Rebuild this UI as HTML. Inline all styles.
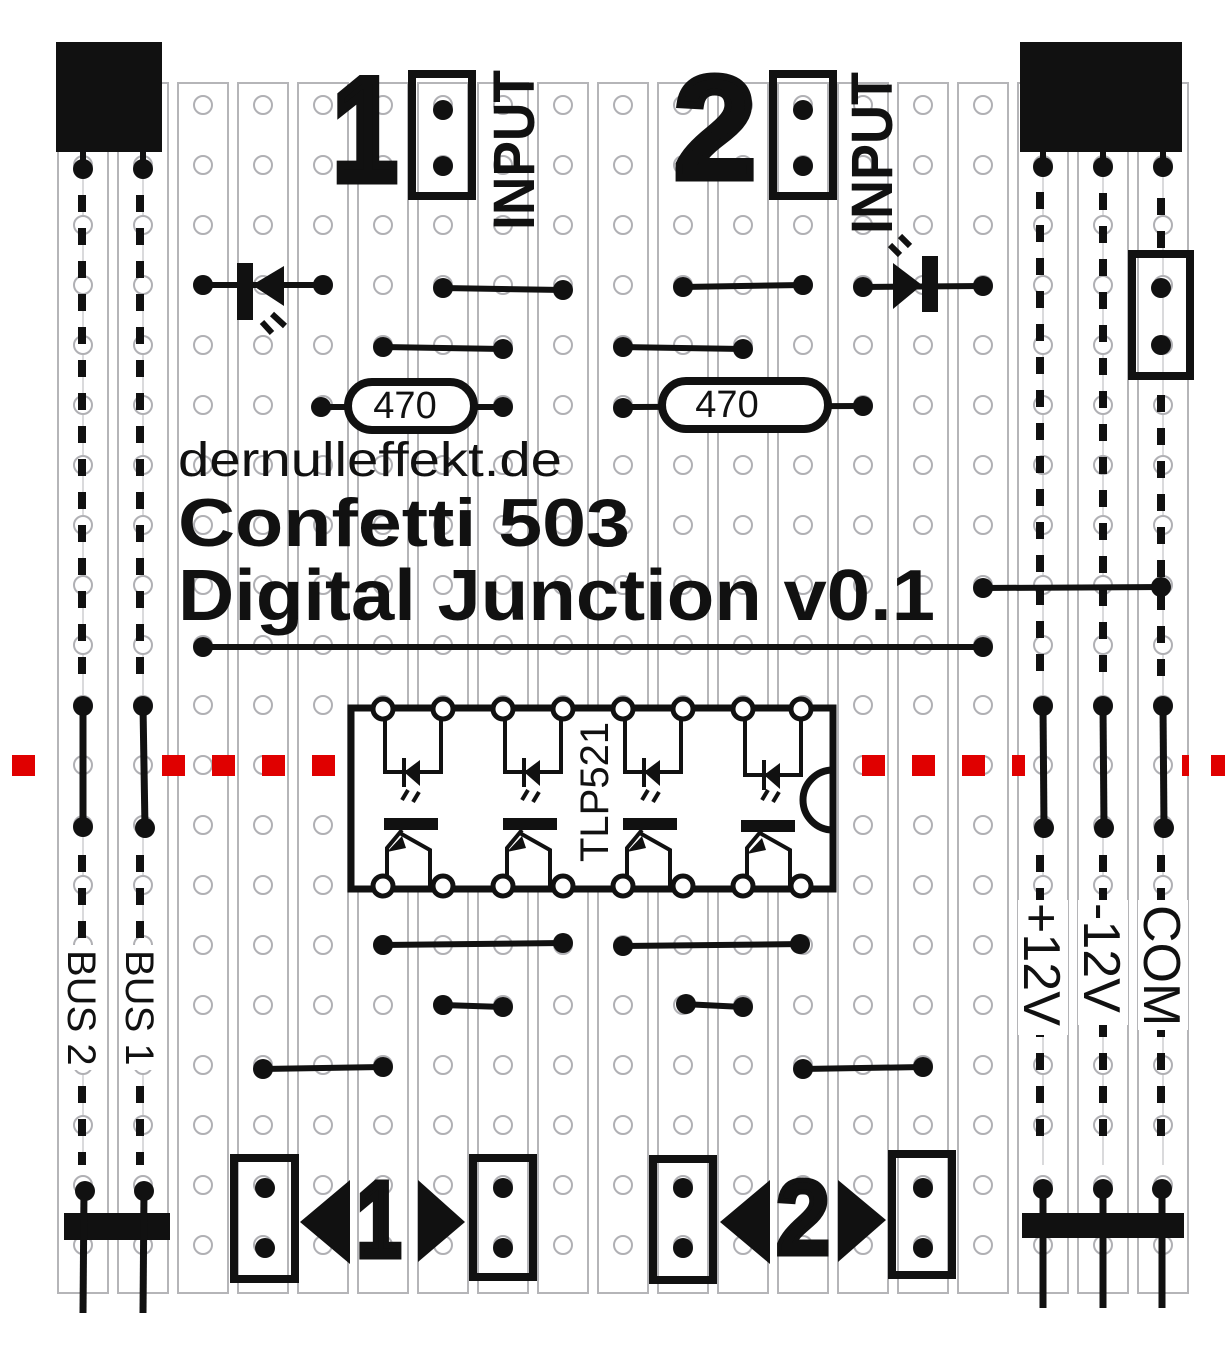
<!DOCTYPE html>
<html><head><meta charset="utf-8"><style>
html,body{margin:0;padding:0;background:#fff;}
svg{display:block;}
</style></head><body>
<svg width="1225" height="1360" viewBox="0 0 1225 1360" xmlns="http://www.w3.org/2000/svg" font-family="Liberation Sans, sans-serif">
<defs>
<pattern id="holes" x="53" y="75" width="60" height="60" patternUnits="userSpaceOnUse">
<circle cx="30" cy="30" r="9" fill="#fff" stroke="#b0b0b4" stroke-width="2"/>
</pattern>
</defs>
<rect width="1225" height="1360" fill="#fff"/>
<g fill="none" stroke="#b5b5b8" stroke-width="2">
<rect x="58" y="83" width="50" height="1210"/><rect x="118" y="83" width="50" height="1210"/>
<rect x="178" y="83" width="50" height="1210"/><rect x="238" y="83" width="50" height="1210"/>
<rect x="298" y="83" width="50" height="1210"/><rect x="358" y="83" width="50" height="1210"/>
<rect x="418" y="83" width="50" height="1210"/><rect x="478" y="83" width="50" height="1210"/>
<rect x="538" y="83" width="50" height="1210"/><rect x="598" y="83" width="50" height="1210"/>
<rect x="658" y="83" width="50" height="1210"/><rect x="718" y="83" width="50" height="1210"/>
<rect x="778" y="83" width="50" height="1210"/><rect x="838" y="83" width="50" height="1210"/>
<rect x="898" y="83" width="50" height="1210"/><rect x="958" y="83" width="50" height="1210"/>
<rect x="1018" y="83" width="50" height="1210"/><rect x="1078" y="83" width="50" height="1210"/>
<rect x="1138" y="83" width="50" height="1210"/>
</g>
<g stroke="#b5b5b8" stroke-width="1">
<line x1="83" y1="170" x2="83" y2="1165"/><line x1="143" y1="170" x2="143" y2="1165"/>
<line x1="1043" y1="170" x2="1043" y2="1165"/><line x1="1103" y1="170" x2="1103" y2="1165"/><line x1="1163" y1="170" x2="1163" y2="1165"/>
</g>
<rect x="53" y="75" width="1140" height="1200" fill="url(#holes)"/>
<g fill="#e00000">
<rect x="12" y="755" width="23" height="21"/>
<rect x="162" y="755" width="23" height="21"/>
<rect x="212" y="755" width="23" height="21"/>
<rect x="262" y="755" width="23" height="21"/>
<rect x="312" y="755" width="23" height="21"/>
<rect x="862" y="755" width="23" height="21"/>
<rect x="912" y="755" width="23" height="21"/>
<rect x="962" y="755" width="23" height="21"/>
<rect x="1012" y="755" width="13" height="21"/>
<rect x="1182" y="755" width="7" height="21"/>
<rect x="1211" y="755" width="14" height="21"/>
</g>

<g fill="#111" stroke="#111">
<rect x="56" y="42" width="106" height="110" stroke="none"/>
<rect x="1020" y="42" width="162" height="110" stroke="none"/>
<g stroke-width="6"><line x1="83" y1="150" x2="83" y2="168"/><line x1="143" y1="150" x2="143" y2="168"/>
<line x1="1043" y1="150" x2="1043" y2="168"/><line x1="1103" y1="150" x2="1103" y2="168"/><line x1="1163" y1="150" x2="1163" y2="168"/></g>
<g stroke="none"><circle cx="83" cy="169" r="10"/><circle cx="143" cy="169" r="10"/><circle cx="1043" cy="167" r="10"/><circle cx="1103" cy="167" r="10"/><circle cx="1163" cy="167" r="10"/></g>
<g stroke-width="8" stroke-dasharray="17 16" fill="none">
<line x1="82" y1="195" x2="82" y2="690"/><line x1="140" y1="195" x2="140" y2="690"/>
<line x1="1040" y1="192" x2="1040" y2="685"/><line x1="1103" y1="193" x2="1103" y2="685"/>
<line x1="1161" y1="198" x2="1161" y2="250"/><line x1="1161" y1="395" x2="1161" y2="685"/>
<line x1="82" y1="855" x2="82" y2="1165"/><line x1="140" y1="855" x2="140" y2="1165"/>
<line x1="1040" y1="855" x2="1040" y2="1145"/><line x1="1103" y1="855" x2="1103" y2="1145"/><line x1="1161" y1="855" x2="1161" y2="1145"/>
</g>
<g stroke-width="7"><line x1="83" y1="706" x2="83" y2="827"/><line x1="143" y1="706" x2="145" y2="828"/>
<line x1="1043" y1="706" x2="1044" y2="828"/><line x1="1103" y1="706" x2="1104" y2="828"/><line x1="1163" y1="706" x2="1164" y2="828"/></g>
<g stroke="none"><circle cx="83" cy="706" r="10"/><circle cx="83" cy="827" r="10"/><circle cx="143" cy="706" r="10"/><circle cx="145" cy="828" r="10"/>
<circle cx="1043" cy="706" r="10"/><circle cx="1044" cy="828" r="10"/><circle cx="1103" cy="706" r="10"/><circle cx="1104" cy="828" r="10"/><circle cx="1163" cy="706" r="10"/><circle cx="1164" cy="828" r="10"/></g>
<rect x="64" y="1213" width="106" height="27" stroke="none"/>
<rect x="1022" y="1213" width="162" height="25" stroke="none"/>
<g stroke-width="7"><line x1="84" y1="1190" x2="83" y2="1313"/><line x1="144" y1="1190" x2="143" y2="1313"/>
<line x1="1043" y1="1190" x2="1043" y2="1308"/><line x1="1103" y1="1190" x2="1103" y2="1308"/><line x1="1162" y1="1190" x2="1162" y2="1308"/></g>
<g stroke="none"><circle cx="85" cy="1191" r="10"/><circle cx="144" cy="1191" r="10"/><circle cx="1043" cy="1189" r="10"/><circle cx="1103" cy="1189" r="10"/><circle cx="1162" cy="1189" r="10"/></g>
</g>

<rect x="62" y="945" width="42" height="125" fill="#fff"/>
<rect x="122" y="945" width="42" height="125" fill="#fff"/>
<rect x="1018" y="900" width="50" height="135" fill="#fff"/>
<rect x="1078" y="900" width="50" height="125" fill="#fff"/>
<rect x="1138" y="900" width="50" height="130" fill="#fff"/>
<g fill="#111" font-size="40">
<text transform="translate(68,950) rotate(90)">BUS 2</text>
<text transform="translate(126,950) rotate(90)">BUS 1</text>
</g>
<g fill="#111" font-size="52">
<text transform="translate(1024,903) rotate(90)">+12V</text>
<text transform="translate(1084,903) rotate(90)">-12V</text>
<text transform="translate(1144,905) rotate(90)">COM</text>
</g>

<g fill="#111">
<text x="333" y="180" font-size="146" font-weight="bold" textLength="64" lengthAdjust="spacingAndGlyphs" stroke="#111" stroke-width="9">1</text>
<text x="674" y="178" font-size="146" font-weight="bold" textLength="82" lengthAdjust="spacingAndGlyphs" stroke="#111" stroke-width="7">2</text>
<text transform="translate(534,230) rotate(-90)" font-size="58" font-weight="bold" textLength="160" lengthAdjust="spacingAndGlyphs">INPUT</text>
<text transform="translate(892,234) rotate(-90)" font-size="58" font-weight="bold" textLength="162" lengthAdjust="spacingAndGlyphs">INPUT</text>
</g>
<g fill="none" stroke="#111" stroke-width="8">
<rect x="412" y="74" width="60" height="122"/>
<rect x="773" y="74" width="60" height="122"/>
<rect x="1132" y="254" width="58" height="122"/>
<rect x="234" y="1158" width="61" height="121"/>
<rect x="473" y="1158" width="60" height="119"/>
<rect x="653" y="1159" width="60" height="121"/>
<rect x="892" y="1154" width="60" height="121"/>
</g>
<g fill="#111">
<circle cx="443" cy="110" r="10"/><circle cx="443" cy="166" r="10"/>
<circle cx="803" cy="110" r="10"/><circle cx="803" cy="166" r="10"/>
<circle cx="1161" cy="288" r="10"/><circle cx="1161" cy="345" r="10"/>
<circle cx="265" cy="1188" r="10"/><circle cx="265" cy="1248" r="10"/>
<circle cx="503" cy="1188" r="10"/><circle cx="503" cy="1248" r="10"/>
<circle cx="683" cy="1188" r="10"/><circle cx="683" cy="1248" r="10"/>
<circle cx="923" cy="1188" r="10"/><circle cx="923" cy="1248" r="10"/>
<polygon points="300,1222 350,1180 350,1264"/>
<polygon points="418,1180 465,1222 418,1262"/>
<polygon points="720,1222 770,1180 770,1264"/>
<polygon points="838,1180 886,1220 838,1262"/>
<text x="357" y="1256" font-size="106" font-weight="bold" textLength="44" lengthAdjust="spacingAndGlyphs" stroke="#111" stroke-width="7">1</text>
<text x="776" y="1254" font-size="106" font-weight="bold" textLength="54" lengthAdjust="spacingAndGlyphs" stroke="#111" stroke-width="5">2</text>
</g>

<g stroke="#111" stroke-width="6" fill="none">
<line x1="203" y1="285" x2="323" y2="285"/>
<line x1="863" y1="287" x2="983" y2="286"/>
<line x1="443" y1="288" x2="563" y2="290"/>
<line x1="383" y1="347" x2="503" y2="349"/>
<line x1="683" y1="287" x2="803" y2="285"/>
<line x1="623" y1="347" x2="743" y2="349"/>
<line x1="323" y1="407" x2="503" y2="407"/>
<line x1="623" y1="407" x2="863" y2="406"/>
<line x1="983" y1="588" x2="1161" y2="587"/>
<line x1="203" y1="647" x2="983" y2="647"/>
<line x1="383" y1="945" x2="563" y2="943"/>
<line x1="623" y1="946" x2="803" y2="944"/>
<line x1="443" y1="1005" x2="503" y2="1007"/>
<line x1="683" y1="1004" x2="743" y2="1007"/>
<line x1="263" y1="1069" x2="383" y2="1067"/>
<line x1="803" y1="1069" x2="923" y2="1067"/>
</g>
<g fill="#111">
<circle cx="203" cy="285" r="10"/><circle cx="323" cy="285" r="10"/>
<circle cx="863" cy="287" r="10"/><circle cx="983" cy="286" r="10"/>
<circle cx="443" cy="288" r="10"/><circle cx="563" cy="290" r="10"/>
<circle cx="383" cy="347" r="10"/><circle cx="503" cy="349" r="10"/>
<circle cx="683" cy="287" r="10"/><circle cx="803" cy="285" r="10"/>
<circle cx="623" cy="347" r="10"/><circle cx="743" cy="349" r="10"/>
<circle cx="321" cy="407" r="10"/><circle cx="503" cy="407" r="10"/>
<circle cx="623" cy="408" r="10"/><circle cx="863" cy="406" r="10"/>
<circle cx="983" cy="588" r="10"/><circle cx="1161" cy="587" r="10"/>
<circle cx="203" cy="647" r="10"/><circle cx="983" cy="647" r="10"/>
<circle cx="383" cy="945" r="10"/><circle cx="563" cy="943" r="10"/>
<circle cx="623" cy="946" r="10"/><circle cx="800" cy="944" r="10"/>
<circle cx="443" cy="1005" r="10"/><circle cx="503" cy="1007" r="10"/>
<circle cx="686" cy="1004" r="10"/><circle cx="743" cy="1007" r="10"/>
<circle cx="263" cy="1069" r="10"/><circle cx="383" cy="1067" r="10"/>
<circle cx="803" cy="1069" r="10"/><circle cx="923" cy="1067" r="10"/>
<rect x="237" y="263" width="16" height="57"/>
<polygon points="252,285 284,266 284,306"/>
<rect x="922" y="256" width="16" height="56"/>
<polygon points="922,285 893,263 893,309"/>
</g>
<g stroke="#111" stroke-width="6">
<line x1="262" y1="322" x2="272" y2="333"/><line x1="272" y1="314" x2="285" y2="326"/>
<line x1="890" y1="245" x2="900" y2="255"/><line x1="900" y1="236" x2="910" y2="246"/>
</g>
<rect x="348" y="382" width="126" height="48" rx="24" fill="#fff" stroke="#111" stroke-width="8"/>
<rect x="662" y="381" width="166" height="48" rx="24" fill="#fff" stroke="#111" stroke-width="8"/>
<text x="405" y="418" font-size="38" text-anchor="middle" fill="#111">470</text>
<text x="727" y="417" font-size="38" text-anchor="middle" fill="#111">470</text>

<g fill="#111">
<text x="178" y="476" font-size="48" textLength="384" lengthAdjust="spacingAndGlyphs">dernulleffekt.de</text>
<text x="178" y="546" font-size="68" font-weight="bold" textLength="452" lengthAdjust="spacingAndGlyphs">Confetti 503</text>
<text x="178" y="620" font-size="72" font-weight="bold" textLength="757" lengthAdjust="spacingAndGlyphs">Digital Junction v0.1</text>
</g>

<rect x="351" y="708" width="482" height="181" fill="#fff" stroke="#111" stroke-width="7"/>
<path d="M833,770 A30,30 0 0 0 833,830" fill="none" stroke="#111" stroke-width="7"/>
<g stroke="#111" stroke-width="4" fill="none">
<path d="M385,708 V772 H441 V708"/><path d="M505,708 V772 H561 V708"/>
<path d="M625,708 V772 H681 V708"/><path d="M745,708 V775 H801 V708"/>
<path d="M387,886 V848 L402,830 M398,832 L430,850 V886"/>
<path d="M507,886 V848 L522,830 M518,832 L550,850 V886"/>
<path d="M627,886 V848 L642,830 M638,832 L670,850 V886"/>
<path d="M747,886 V848 L762,830 M758,832 L790,850 V886"/>
</g>
<g stroke="#111" stroke-width="4">
<line x1="402" y1="800" x2="408" y2="790"/><line x1="413" y1="802" x2="419" y2="792"/>
<line x1="522" y1="800" x2="528" y2="790"/><line x1="533" y1="802" x2="539" y2="792"/>
<line x1="642" y1="800" x2="648" y2="790"/><line x1="653" y1="802" x2="659" y2="792"/>
<line x1="762" y1="800" x2="768" y2="790"/><line x1="773" y1="802" x2="779" y2="792"/>
<line x1="404" y1="758" x2="404" y2="787"/><line x1="524" y1="758" x2="524" y2="787"/>
<line x1="644" y1="758" x2="644" y2="787"/><line x1="764" y1="760" x2="764" y2="790"/>
</g>
<g fill="#111">
<polygon points="404,772 420,760 420,786"/><polygon points="524,772 540,760 540,786"/>
<polygon points="644,772 660,760 660,786"/><polygon points="764,775 780,763 780,789"/>
<rect x="384" y="818" width="54" height="12"/><rect x="503" y="818" width="54" height="12"/>
<rect x="623" y="818" width="54" height="12"/><rect x="741" y="820" width="54" height="12"/>
<polygon points="387,852 402,836 406,848"/><polygon points="507,852 522,836 526,848"/>
<polygon points="627,852 642,836 646,848"/><polygon points="747,854 762,838 766,850"/>
<text transform="translate(608,862) rotate(-90)" font-size="40">TLP521</text>
</g>
<g fill="#fff" stroke="#111" stroke-width="5">
<circle cx="383" cy="709" r="10"/><circle cx="443" cy="709" r="10"/><circle cx="503" cy="709" r="10"/><circle cx="563" cy="709" r="10"/>
<circle cx="623" cy="709" r="10"/><circle cx="683" cy="709" r="10"/><circle cx="743" cy="709" r="10"/><circle cx="801" cy="709" r="10"/>
<circle cx="383" cy="886" r="10"/><circle cx="443" cy="886" r="10"/><circle cx="503" cy="886" r="10"/><circle cx="563" cy="886" r="10"/>
<circle cx="623" cy="886" r="10"/><circle cx="683" cy="886" r="10"/><circle cx="743" cy="886" r="10"/><circle cx="801" cy="886" r="10"/>
</g>
</svg>
</body></html>
